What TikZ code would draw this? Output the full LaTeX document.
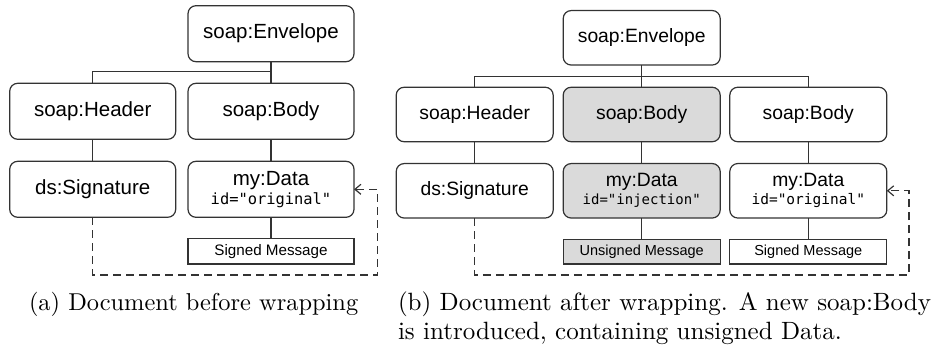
\documentclass[tikz,border=0pt]{standalone}
\usepackage{fontspec}
\newfontfamily\boxsans{Liberation Sans}
\newfontfamily\boxmono{DejaVu Sans Mono}
\newfontfamily\capfont{lmroman10-regular}[Extension=.otf]
\usetikzlibrary{arrows.meta}
\definecolor{lc}{HTML}{333333}
\definecolor{gfill}{HTML}{DADADA}
\begin{document}
\begin{tikzpicture}[x=1pt,y=-1pt,
  every node/.style={inner sep=0pt, outer sep=0pt},
  boxL/.style={draw=lc, line width=1.2pt, rounded corners=8pt, minimum width=166pt, minimum height=56pt, align=center, font=\boxsans\fontsize{20.5}{22}\selectfont},
  boxR/.style={draw=lc, line width=1.2pt, rounded corners=8pt, minimum width=157pt, minimum height=54.5pt, align=center, font=\boxsans\fontsize{19.3}{21}\selectfont},
  msgL/.style={draw=lc, line width=1.2pt, minimum width=166pt, minimum height=25.3pt, font=\boxsans\fontsize{15.2}{16}\selectfont},
  msgR/.style={draw=lc, line width=1.2pt, minimum width=157pt, minimum height=24.7pt, font=\boxsans\fontsize{14.5}{15}\selectfont},
  shaded/.style={fill=gfill},
  conn/.style={draw=lc, line width=1.2pt},
  sigref/.style={draw=lc, line width=1.2pt, dash pattern=on 8pt off 5pt, -{Straight Barb[length=6pt,width=10pt,line width=1.2pt]}},
  capt/.style={anchor=base west, font=\capfont\fontsize{24.4}{29}\selectfont},
  captb/.style={anchor=base west, font=\capfont\fontsize{25}{29}\selectfont}
]
\useasboundingbox (0,0) rectangle (935,347);

% ---------- left diagram ----------
\node[boxL] (envL) at (271,33.7) {soap:Envelope};
\node[boxL] (headL) at (92.7,111.3) {soap:Header};
\node[boxL] (bodyL) at (271,111.3) {soap:Body};
\node[boxL] (sigL) at (92.7,189.3) {ds:Signature};
\node[boxL] (dataL) at (271,189.3) {my:Data\\[-3pt]{\boxmono\fontsize{15.4}{16}\selectfont id="original"}};
\node[msgL] (smL) at (271,251.3) {Signed Message};

\coordinate (brL) at (271,71.7);
\coordinate (dL) at (377.7,275);
\draw[conn] (envL.south) -- (bodyL.north);
\draw[conn] (brL) -| (headL.north);
\draw[conn] (headL.south) -- (sigL.north);
\draw[conn] (bodyL.south) -- (dataL.north);
\draw[conn] (dataL.south) -- (smL.north);
\draw[sigref] (sigL.south) |- (dL) |- (dataL.east);

% ---------- right diagram ----------
\node[boxR] (envR) at (641.7,37.8) {soap:Envelope};
\node[boxR] (headR) at (474.7,114.5) {soap:Header};
\node[boxR,shaded] (bodyR) at (641.7,114.5) {soap:Body};
\node[boxR] (body2R) at (808.3,114.5) {soap:Body};
\node[boxR] (sigR) at (474.7,190.8) {ds:Signature};
\node[boxR,shaded] (dataR) at (641.7,190.8) {my:Data\\[-3pt]{\boxmono\fontsize{14}{15}\selectfont id="injection"}};
\node[boxR] (data2R) at (808.3,190.8) {my:Data\\[-3pt]{\boxmono\fontsize{14.5}{15}\selectfont id="original"}};
\node[msgR,shaded] (umR) at (641.7,251.7) {Unsigned Message};
\node[msgR] (smR) at (808.3,251.7) {Signed Message};

\coordinate (brR) at (641.7,76.7);
\coordinate (dR) at (909,275);
\draw[conn] (envR.south) -- (bodyR.north);
\draw[conn] (headR.north) |- (brR) -| (body2R.north);
\draw[conn] (headR.south) -- (sigR.north);
\draw[conn] (bodyR.south) -- (dataR.north);
\draw[conn] (body2R.south) -- (data2R.north);
\draw[conn] (dataR.south) -- (umR.north);
\draw[conn] (data2R.south) -- (smR.north);
\draw[sigref] (sigR.south) |- (dR) |- (data2R.east);

% ---------- captions ----------
\node[capt] (capA) at (29,311) {(a) Document before wrapping};
\node[captb] (capB1) at (398,311) {(b) Document after wrapping. A new soap:Body};
\node[captb] (capB2) at (398,340) {is introduced, containing unsigned Data.};
\end{tikzpicture}
\end{document}
